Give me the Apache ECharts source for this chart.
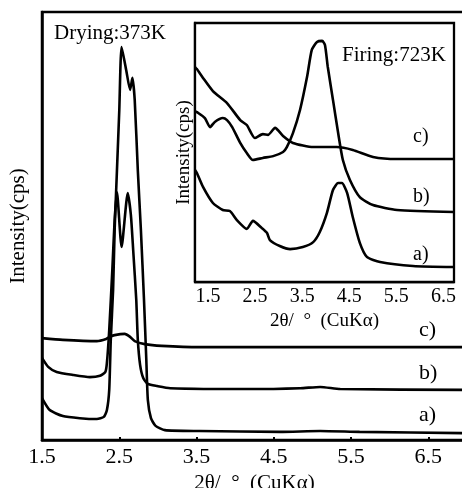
<!DOCTYPE html>
<html>
<head>
<meta charset="utf-8">
<script src="https://cdn.jsdelivr.net/npm/echarts@6/dist/echarts.min.js"></script>
<style>
  html, body { margin: 0; padding: 0; background: #fff; }
  #chart { width: 462px; height: 488px; }
</style>
</head>
<body>
<div id="chart"></div>
<script>
// tick labels (both panels)
var tickLabels = [1.5, 2.5, 3.5, 4.5, 5.5, 6.5];

// main panel, drying 373K  -> [2theta, intensity (arb.)]
var dryA = [[1.5, 9.8], [1.6, 7.0], [1.77, 5.6], [1.99, 5.1], [2.21, 4.9], [2.3, 5.4], [2.34, 7.0],
  [2.37, 11.7], [2.39, 23.4], [2.42, 35], [2.44, 49], [2.47, 63], [2.5, 77], [2.53, 91.8],
  [2.59, 86.4], [2.64, 81.8], [2.67, 84.6], [2.7, 79.4], [2.74, 63], [2.78, 49], [2.82, 32.7],
  [2.85, 18.7], [2.87, 9.3], [2.91, 5.1], [2.97, 3.3], [3.09, 2.3], [3.54, 2.1], [4.58, 1.9],
  [5.1, 2.1], [5.61, 1.9], [7.0, 1.6]];
var dryB = [[1.5, 19.2], [1.58, 17.1], [1.69, 15.9], [1.9, 15.2], [2.12, 14.7], [2.25, 15.0],
  [2.32, 15.9], [2.34, 18.0], [2.37, 25.7], [2.41, 39.7], [2.44, 51.4], [2.47, 57.9], [2.53, 45.1],
  [2.61, 57.7], [2.65, 52.6], [2.68, 44.4], [2.72, 32.7], [2.74, 23.4], [2.77, 17.5], [2.81, 14.5],
  [2.87, 13.1], [2.99, 12.6], [3.16, 12.1], [4.19, 11.9], [4.84, 12.1], [5.1, 12.4], [5.36, 11.9],
  [7.0, 11.7]];
var dryC = [[1.5, 23.8], [1.77, 23.4], [2.21, 23.1], [2.33, 23.6], [2.38, 24.1], [2.44, 24.5],
  [2.57, 24.8], [2.64, 24.1], [2.7, 23.1], [2.83, 22.4], [3.05, 22.0], [3.54, 21.7], [7.0, 21.7]];

// inset, firing 723K
var fireA = [[1.5, 43.2], [1.54, 42.1], [1.67, 36.7], [1.88, 30.5], [2.09, 27.8], [2.24, 27.4],
  [2.39, 23.9], [2.6, 20.5], [2.73, 23.6], [2.92, 20.8], [3.03, 18.9], [3.09, 16.2], [3.3, 13.9],
  [3.52, 12.7], [3.79, 13.5], [4.01, 15.4], [4.15, 19.3], [4.3, 26.6], [4.43, 35.5], [4.54, 38.2],
  [4.62, 38.2], [4.73, 34.4], [4.85, 25.1], [5.0, 15.1], [5.15, 9.7], [5.43, 7.7], [6.13, 6.2],
  [7.0, 5.8]];
var fireB = [[1.5, 66], [1.54, 65.6], [1.71, 63.3], [1.82, 59.8], [1.92, 61.8], [2.09, 63.3],
  [2.18, 62.5], [2.29, 59.8], [2.46, 53.7], [2.6, 49.8], [2.73, 47.1], [2.94, 47.9], [3.16, 48.6],
  [3.37, 50.2], [3.45, 52.1], [3.58, 57.5], [3.73, 66.4], [3.88, 79.2], [3.98, 89.6], [4.09, 92.7],
  [4.2, 93.1], [4.26, 91.5], [4.32, 83.0], [4.43, 70.3], [4.54, 57.5], [4.64, 47.1], [4.79, 39.4],
  [5.0, 32.8], [5.28, 29.7], [5.79, 27.8], [7.0, 27.0]];
var fireC = [[1.5, 83], [1.54, 82.2], [1.67, 78.8], [1.88, 73.7], [2.18, 69.1], [2.46, 62.5],
  [2.6, 60.6], [2.77, 55.6], [2.94, 57.1], [3.05, 56.8], [3.2, 59.5], [3.37, 56.4], [3.58, 53.7],
  [4.01, 52.1], [4.51, 52.1], [4.85, 51.0], [5.28, 48.3], [5.79, 47.5], [7.0, 47.5]];

var serif = "'Liberation Serif', 'DejaVu Serif', serif";

var dom = document.getElementById("chart");
var myChart = echarts.init(dom);

function line(data, idx) {
  return {
    type: 'line',
    data: data,
    xAxisIndex: idx,
    yAxisIndex: idx,
    showSymbol: false,
    smooth: 0.2,
    lineStyle: { color: '#000', width: 2.6 },
    z: 3 + idx * 10
  };
}

function txt(s, x, y, size) {
  return {
    type: 'text',
    z: 100,
    style: { text: s, x: x, y: y, font: size + 'px ' + serif, fill: '#000', verticalAlign: 'middle' }
  };
}

option = {
  animation: false,
  grid: [
    { left: 42, top: 12, width: 425, height: 428, outerBoundsMode: 'none', containLabel: false,
      show: true, borderColor: '#000', borderWidth: 2.5, backgroundColor: '#fff', z: 0 },
    { left: 195, top: 23, width: 259, height: 259, outerBoundsMode: 'none', containLabel: false,
      show: true, borderColor: '#000', borderWidth: 2.3, backgroundColor: '#fff', z: 10 }
  ],
  xAxis: [
    {
      gridIndex: 0, type: 'value', min: 1.5, max: 7,
      name: '2θ/  °  (CuKα)', nameLocation: 'middle', nameGap: 31,
      nameTextStyle: { fontFamily: serif, fontSize: 21, color: '#000' },
      axisLine: { lineStyle: { color: '#000', width: 2.5 } },
      axisTick: { inside: true, length: 3, lineStyle: { color: '#000', width: 2 }, customValues: tickLabels },
      axisLabel: { fontFamily: serif, fontSize: 22, color: '#000', margin: 6, customValues: tickLabels },
      splitLine: { show: false }
    },
    {
      gridIndex: 1, type: 'value', min: 1.5, max: 7,
      name: '2θ/  °  (CuKα)', nameLocation: 'middle', nameGap: 27,
      nameTextStyle: { fontFamily: serif, fontSize: 19, color: '#000' },
      axisLine: { lineStyle: { color: '#000', width: 2.3 } },
      axisTick: { inside: true, length: 2, lineStyle: { color: '#000', width: 2 }, customValues: tickLabels },
      axisLabel: { fontFamily: serif, fontSize: 20, color: '#000', margin: 5, padding: [0, 0, 0, 26], customValues: tickLabels },
      splitLine: { show: false }
    }
  ],
  yAxis: [
    {
      gridIndex: 0, type: 'value', min: 0, max: 100,
      name: 'Intensity(cps)', nameLocation: 'middle', nameGap: 13,
      nameTextStyle: { fontFamily: serif, fontSize: 21, color: '#000' },
      axisLine: { show: true, lineStyle: { color: '#000', width: 2.5 } },
      axisTick: { show: false }, axisLabel: { show: false }, splitLine: { show: false }
    },
    {
      gridIndex: 1, type: 'value', min: 0, max: 100,
      name: 'Intensity(cps)', nameLocation: 'middle', nameGap: 1,
      nameTextStyle: { fontFamily: serif, fontSize: 19, color: '#000' },
      axisLine: { show: true, lineStyle: { color: '#000', width: 2.3 } },
      axisTick: { show: false }, axisLabel: { show: false }, splitLine: { show: false }
    }
  ],
  series: [
    line(dryA, 0), line(dryB, 0), line(dryC, 0),
    line(fireA, 1), line(fireB, 1), line(fireC, 1)
  ],
  graphic: [
    txt('Drying:373K', 54, 33, 21),
    txt('Firing:723K', 342, 55, 21),
    txt('c)', 419, 330, 22),
    txt('b)', 419, 373, 22),
    txt('a)', 419, 415, 22),
    txt('c)', 413, 137, 20),
    txt('b)', 413, 197, 20),
    txt('a)', 413, 255, 20)
  ]
};

if (option && typeof option === "object") {
  myChart.setOption(option, true);
}
</script>
</body>
</html>
